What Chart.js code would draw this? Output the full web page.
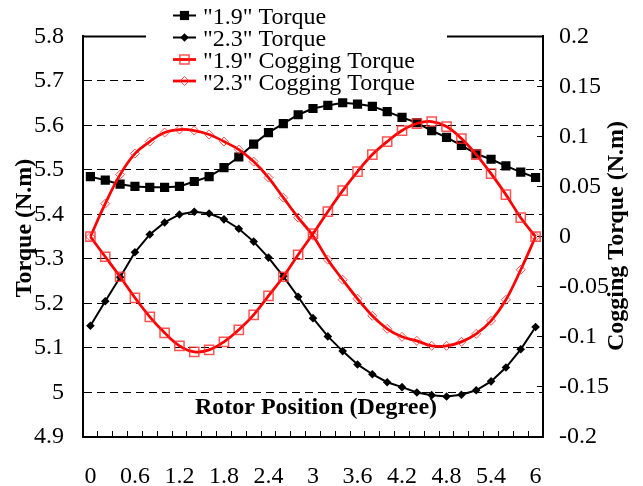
<!DOCTYPE html>
<html>
<head>
<meta charset="utf-8">
<script src="https://cdn.jsdelivr.net/npm/chart.js@4/dist/chart.umd.min.js"></script>
<style>
  html, body { margin: 0; padding: 0; background: #fff; }
  canvas { display: block; }
  .fontwarm { font-family: "Liberation Serif"; position: absolute; left: -999px; top: -999px; }
</style>
</head>
<body>
<span class="fontwarm">Torque</span><span class="fontwarm" style="font-weight:bold">Torque</span>
<canvas id="chart" width="643" height="486"></canvas>
<script>
// Rotor position in degrees (category axis, one entry per sample)
const rotorPosition = ['0','0.2','0.4','0.6','0.8','1','1.2','1.4','1.6','1.8','2','2.2','2.4','2.6','2.8','3',
                       '3.2','3.4','3.6','3.8','4','4.2','4.4','4.6','4.8','5','5.2','5.4','5.6','5.8','6'];

// Labels shown under the x axis
const xTickLabels = ['0','0.6','1.2','1.8','2.4','3','3.6','4.2','4.8','5.4','6'];

// Output torque (N.m), left axis
const torque19 = [5.485,5.477,5.468,5.463,5.461,5.461,5.463,5.474,5.485,5.505,5.529,5.558,5.584,5.604,5.624,5.638,
                  5.645,5.651,5.648,5.643,5.631,5.618,5.606,5.588,5.573,5.555,5.536,5.524,5.509,5.495,5.483];
const torque23 = [5.150,5.205,5.259,5.315,5.355,5.382,5.400,5.406,5.402,5.389,5.368,5.339,5.303,5.261,5.215,5.167,
                  5.126,5.093,5.063,5.041,5.023,5.012,5.000,4.994,4.991,4.995,5.005,5.025,5.056,5.097,5.147];

// Cogging torque (N.m), right axis
const cogging19 = [0.000,-0.020,-0.040,-0.061,-0.080,-0.096,-0.109,-0.115,-0.113,-0.105,-0.093,-0.078,-0.059,-0.040,-0.018,0.003,
                   0.025,0.046,0.065,0.082,0.095,0.106,0.113,0.115,0.110,0.098,0.082,0.063,0.042,0.019,0.000];
const cogging23 = [0.000,0.033,0.062,0.083,0.095,0.104,0.107,0.106,0.102,0.095,0.087,0.075,0.059,0.039,0.019,0.001,
                   -0.023,-0.043,-0.062,-0.079,-0.092,-0.100,-0.104,-0.109,-0.109,-0.105,-0.097,-0.084,-0.063,-0.033,0.000];

const seriesNames = ['"1.9" Torque', '"2.3" Torque', '"1.9" Cogging Torque', '"2.3" Cogging Torque'];

const SERIF = "'Liberation Serif'";
const RED = '#ff0000';
const RED_MARK = 'rgba(255,40,40,0.8)';

function fmt(v) { return String(+(+v).toFixed(2)); }

// Plot frame top edge, in-plot legend panel and x title
const decorations = {
  id: 'decorations',
  beforeDatasetsDraw(chart) {
    const { ctx, chartArea: a } = chart;
    ctx.save();
    ctx.strokeStyle = '#000';
    ctx.lineWidth = 2;
    ctx.beginPath();
    ctx.moveTo(a.left - 1, a.top);
    ctx.lineTo(a.right + 1, a.top);
    ctx.stroke();

    // legend panel
    ctx.fillStyle = '#fff';
    ctx.fillRect(146, 0, 301, 95);
    const rows = [15.5, 37.5, 59.5, 81];
    chart.data.datasets.forEach((ds, i) => {
      const y = rows[i];
      ctx.strokeStyle = ds.borderColor;
      ctx.lineWidth = ds.borderWidth;
      ctx.beginPath();
      ctx.moveTo(173, y);
      ctx.lineTo(196, y);
      ctx.stroke();
      ctx.fillStyle = ds.pointBackgroundColor;
      ctx.strokeStyle = ds.pointBorderColor;
      ctx.lineWidth = ds.pointBorderWidth;
      Chart.helpers.drawPoint(ctx, {
        pointStyle: ds.pointStyle, rotation: 0,
        radius: ds.pointRadius, borderWidth: ds.pointBorderWidth
      }, 184.5, y);
      ctx.fillStyle = '#000';
      ctx.font = '24px ' + SERIF;
      ctx.textAlign = 'left';
      ctx.textBaseline = 'alphabetic';
      ctx.fillText(ds.label, 203, y + 8.5);
    });

    // x axis title, placed inside the plot
    ctx.fillStyle = '#000';
    ctx.font = 'bold 24px ' + SERIF;
    ctx.textAlign = 'center';
    ctx.textBaseline = 'alphabetic';
    ctx.fillText('Rotor Position (Degree)', (a.left + a.right) / 2 + 3, 414);
    ctx.restore();
  },
  afterDraw(chart) {
    const { ctx } = chart;
    ctx.save();
    ctx.fillStyle = '#000';
    ctx.font = 'bold 24px ' + SERIF;
    ctx.textAlign = 'center';
    ctx.textBaseline = 'alphabetic';
    // left axis title
    ctx.save();
    ctx.translate(31, 228);
    ctx.rotate(-Math.PI / 2);
    ctx.fillText('Torque (N.m)', 0, 0);
    ctx.restore();
    // right axis title
    ctx.save();
    ctx.translate(623, 236);
    ctx.rotate(-Math.PI / 2);
    ctx.fillText('Cogging Torque (N.m)', 0, 0);
    ctx.restore();
    ctx.restore();
  }
};

function build() {
  Chart.defaults.font.family = SERIF;
  new Chart(document.getElementById('chart'), {
    type: 'line',
    data: {
      labels: rotorPosition,
      datasets: [
        {
          label: seriesNames[0], data: torque19, yAxisID: 'y', order: 1,
          borderColor: '#000', borderWidth: 2, tension: 0,
          pointStyle: 'rect', pointRadius: 6.5, pointBackgroundColor: '#000',
          pointBorderColor: '#000', pointBorderWidth: 0
        },
        {
          label: seriesNames[1], data: torque23, yAxisID: 'y', order: 1,
          borderColor: '#000', borderWidth: 2, tension: 0,
          pointStyle: 'rectRot', pointRadius: 4.3, pointBackgroundColor: '#000',
          pointBorderColor: '#000', pointBorderWidth: 0
        },
        {
          label: seriesNames[2], data: cogging19, yAxisID: 'y1', order: 0,
          borderColor: RED, borderWidth: 2.75, tension: 0.4,
          pointStyle: 'rect', pointRadius: 6.5, pointBackgroundColor: 'rgba(0,0,0,0)',
          pointBorderColor: RED_MARK, pointBorderWidth: 1.5
        },
        {
          label: seriesNames[3], data: cogging23, yAxisID: 'y1', order: 0,
          borderColor: RED, borderWidth: 2.75, tension: 0.4,
          pointStyle: 'rectRot', pointRadius: 4.5, pointBackgroundColor: 'rgba(0,0,0,0)',
          pointBorderColor: RED_MARK, pointBorderWidth: 1
        }
      ]
    },
    options: {
      responsive: false,
      animation: false,
      devicePixelRatio: 1,
      layout: { padding: { top: 20, left: 0, right: 0, bottom: 0 } },
      plugins: { legend: { display: false }, tooltip: { enabled: false } },
      scales: {
        x: {
          type: 'category',
          offset: true,
          afterFit(s) { s.height = 49; },
          grid: { offset: true, drawOnChartArea: false, drawTicks: true, tickLength: -6, color: '#000', lineWidth: 1 },
          border: { color: '#000', width: 2 },
          ticks: {
            autoSkip: false, maxRotation: 0, minRotation: 0, padding: 31,
            color: '#000', font: { family: SERIF, size: 24 },
            callback(v, i) { const l = rotorPosition[i]; return xTickLabels.includes(l) ? l : ''; }
          }
        },
        y: {
          position: 'left',
          min: 4.9, max: 5.8,
          afterFit(s) { s.width = 83; },
          grid: {
            drawTicks: false, lineWidth: 1,
            color(c) {
              const v = c.tick ? c.tick.value : 0;
              return (Math.abs(v - 4.9) < 1e-6 || Math.abs(v - 5.8) < 1e-6) ? 'rgba(0,0,0,0)' : '#000';
            }
          },
          border: { color: '#000', width: 2, dash: [8, 5] },
          ticks: { stepSize: 0.1, padding: 19, color: '#000', font: { family: SERIF, size: 24 }, callback: fmt }
        },
        y1: {
          position: 'right',
          min: -0.2, max: 0.2,
          afterFit(s) { s.width = 100; },
          grid: { drawOnChartArea: false, drawTicks: true, tickLength: -6, color: '#000', lineWidth: 1 },
          border: { color: '#000', width: 2 },
          ticks: { stepSize: 0.05, padding: 22, color: '#000', font: { family: SERIF, size: 24 }, callback: fmt }
        }
      }
    },
    plugins: [decorations]
  });
}

Promise.all([
  document.fonts.load("24px 'Liberation Serif'"),
  document.fonts.load("bold 24px 'Liberation Serif'")
]).then(build, build);
</script>
</body>
</html>
